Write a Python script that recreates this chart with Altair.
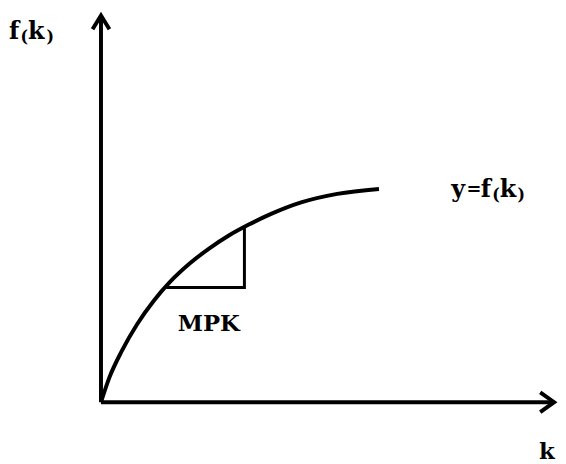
import altair as alt
import pandas as pd

# ---- data (economic units: k on x, f(k) on y) ----
k_curve = [0.0, 0.3, 0.75, 1.3, 1.9, 2.5, 3.2, 3.9, 4.6, 5.3, 6.1, 7.2, 8.5, 10.0]
f_curve = [0.0, 1.15, 2.4, 3.65, 4.75, 5.65, 6.5, 7.2, 7.8, 8.3, 8.8, 9.35, 9.75, 9.98]

# MPK triangle (run then rise)
tri_k = [2.35, 5.16, 5.16]
tri_f = [5.37, 5.37, 8.24]

# axis extents
k_axis_end = 16.30
f_axis_end = 18.10

# label pieces: text, k, f (baseline), font size
lab_text = ["f", "(", "k", ")",
            "y", "=", "f", "(", "k", ")",
            "k"]
lab_k = [-3.31, -2.90, -2.623, -1.957,
         12.598, 13.149, 13.665, 14.075, 14.342, 14.982,
         15.76]
lab_f = [17.01, 16.85, 17.01, 16.85,
         9.60, 9.71, 9.60, 9.44, 9.60, 9.44,
         -2.66]
lab_size = [24, 16, 24, 16,
            24, 18, 24, 16, 24, 16,
            23]

mpk_text = ["MPK"]
mpk_k = [3.88]
mpk_f = [3.33]

# ---- layout ----
W, H = 556, 456
sx, sy = 28.1, 21.6          # px per unit
x0, y0 = 94, 396             # origin in plot px
xs = alt.Scale(domain=[-x0 / sx, (W - x0) / sx], nice=False, zero=False)
ys = alt.Scale(domain=[-(H - y0) / sy, y0 / sy], nice=False, zero=False)

FONT = "DejaVu Serif"

curve_df = pd.DataFrame({"k": k_curve, "f": f_curve})
tri_df = pd.DataFrame({"k": tri_k, "f": tri_f, "o": list(range(len(tri_k)))})
axes_df = pd.DataFrame({"k": [0, 0], "f": [0, 0], "k2": [0, k_axis_end], "f2": [f_axis_end, 0]})
up_df = pd.DataFrame({"k": [0], "f": [f_axis_end]})
right_df = pd.DataFrame({"k": [k_axis_end], "f": [0]})
lab_df = pd.DataFrame({"t": lab_text, "k": lab_k, "f": lab_f, "s": lab_size})
mpk_df = pd.DataFrame({"t": mpk_text, "k": mpk_k, "f": mpk_f})

X = alt.X("k:Q", scale=xs, axis=None)
Y = alt.Y("f:Q", scale=ys, axis=None)

axes = alt.Chart(axes_df).mark_rule(color="black", strokeWidth=4).encode(
    x=X, y=Y, x2="k2:Q", y2="f2:Q")

up = alt.Chart(up_df).mark_point(shape="M -0.61 1 L 0 0 L 0.61 1", filled=False, color="black",
                                 strokeWidth=4, size=784, opacity=1, strokeJoin="miter").encode(x=X, y=Y)
right = alt.Chart(right_df).mark_point(shape="M -0.71 1 L 0 0 L 0.71 1", filled=False, color="black",
                                       strokeWidth=4, size=784, angle=90, opacity=1,
                                       strokeJoin="miter").encode(x=X, y=Y)

curve = alt.Chart(curve_df).mark_line(color="black", strokeWidth=4, interpolate="monotone").encode(
    x=X, y=Y)

tri = alt.Chart(tri_df).mark_line(color="black", strokeWidth=3, strokeJoin="miter").encode(
    x=X, y=Y, order="o:Q")

labels = alt.Chart(lab_df).mark_text(font=FONT, fontWeight="bold", align="left",
                                     baseline="alphabetic", color="black").encode(
    x=X, y=Y, text="t:N", size=alt.Size("s:Q", scale=None, legend=None))

mpk = alt.Chart(mpk_df).mark_text(font=FONT, fontWeight="bold", align="center",
                                  baseline="alphabetic", color="black", fontSize=23).encode(
    x=X, y=Y, text="t:N")

chart = alt.layer(axes, up, right, curve, tri, labels, mpk).properties(
    width=W, height=H, autosize="none", padding=0, background="white"
).configure_view(stroke=None)

chart.save("out.html", embed_options={"renderer": "svg", "actions": False})
